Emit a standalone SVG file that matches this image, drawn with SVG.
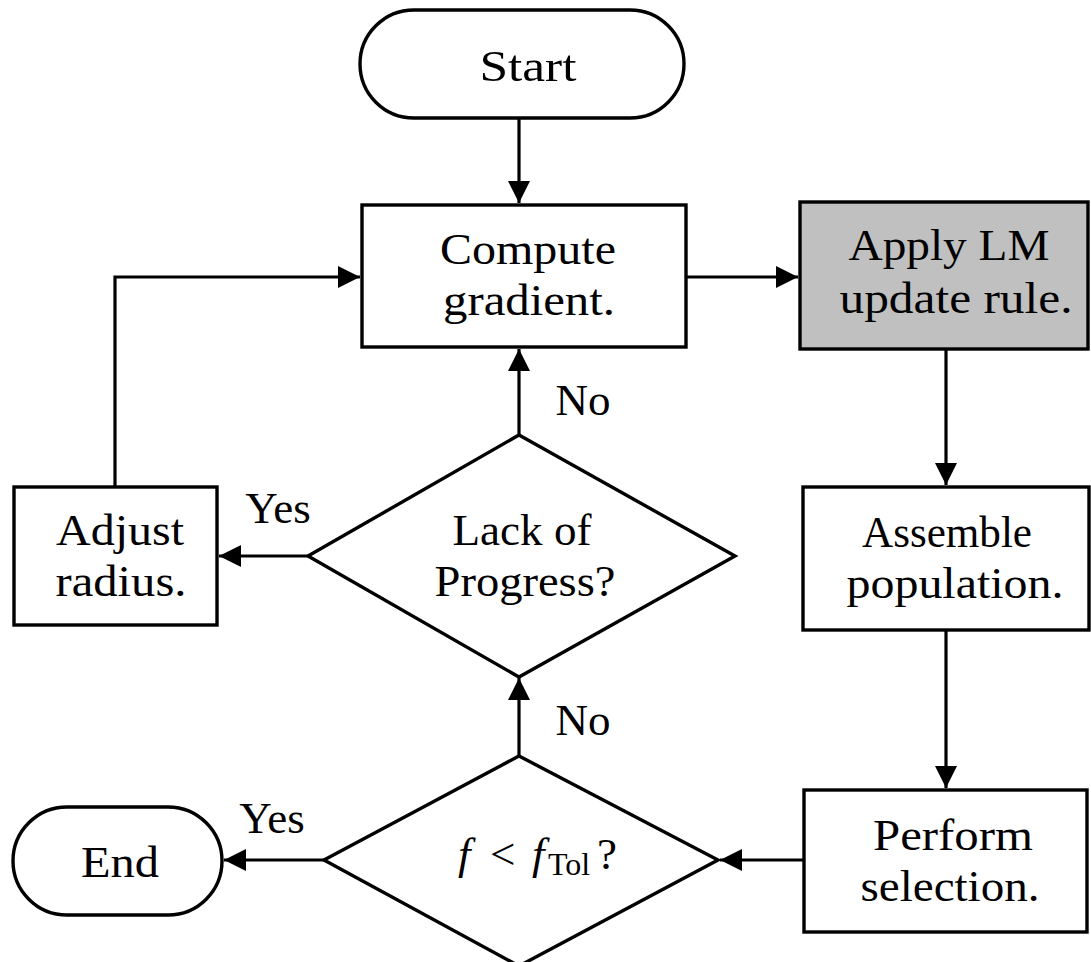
<svg xmlns="http://www.w3.org/2000/svg" width="1091" height="962" viewBox="0 0 1091 962">
<style>
.n{fill:#fff;stroke:#000;stroke-width:3.4}
.g{fill:#c0c0c0;stroke:#000;stroke-width:3.4}
.t{font-family:"Liberation Serif","DejaVu Serif",serif;font-size:45px;fill:#000;text-anchor:middle}
.c{fill:none;stroke:#000;stroke-width:3.2}
</style>
<defs>
<marker id="ah" markerUnits="userSpaceOnUse" markerWidth="24" markerHeight="24" refX="22" refY="11" orient="auto">
<path d="M0,0 L22,11 L0,22 z" fill="#000"/>
</marker>
</defs>
<rect width="1091" height="962" fill="#fff"/>
<g id="connectors">
<path class="c" d="M519,118 V203" marker-end="url(#ah)"/>
<path class="c" d="M686,277 H798" marker-end="url(#ah)"/>
<path class="c" d="M946,349 V485" marker-end="url(#ah)"/>
<path class="c" d="M946,630 V788" marker-end="url(#ah)"/>
<path class="c" d="M804,860 H720" marker-end="url(#ah)"/>
<path class="c" d="M324,860 H224" marker-end="url(#ah)"/>
<path class="c" d="M519,756 V678" marker-end="url(#ah)"/>
<path class="c" d="M519,435 V349" marker-end="url(#ah)"/>
<path class="c" d="M308,556 H219" marker-end="url(#ah)"/>
<path class="c" d="M115,487 V277 H360" marker-end="url(#ah)"/>
<text class="t" x="583" y="415">No</text>
<text class="t" x="583" y="735">No</text>
<text class="t" x="278" y="523">Yes</text>
<text class="t" x="272" y="833">Yes</text>
</g>
<g id="start">
<rect class="n" x="360" y="10" width="324" height="108" rx="54" ry="54"/>
<text class="t" x="528" y="81" textLength="97" lengthAdjust="spacingAndGlyphs">Start</text>
</g>
<g id="compute">
<rect class="n" x="362" y="205" width="324" height="142"/>
<text class="t" x="528" y="264" textLength="176" lengthAdjust="spacingAndGlyphs">Compute</text>
<text class="t" x="529" y="315" textLength="172" lengthAdjust="spacingAndGlyphs">gradient.</text>
</g>
<g id="apply">
<rect class="g" x="800" y="202" width="288" height="147"/>
<text class="t" x="949" y="260" textLength="201" lengthAdjust="spacingAndGlyphs">Apply LM</text>
<text class="t" x="956" y="313" textLength="233" lengthAdjust="spacingAndGlyphs">update rule.</text>
</g>
<g id="assemble">
<rect class="n" x="803" y="487" width="286" height="143"/>
<text class="t" x="947" y="547" textLength="170" lengthAdjust="spacingAndGlyphs">Assemble</text>
<text class="t" x="955" y="598" textLength="217" lengthAdjust="spacingAndGlyphs">population.</text>
</g>
<g id="perform">
<rect class="n" x="804" y="790" width="283" height="142"/>
<text class="t" x="953" y="850" textLength="160" lengthAdjust="spacingAndGlyphs">Perform</text>
<text class="t" x="950" y="901" textLength="179" lengthAdjust="spacingAndGlyphs">selection.</text>
</g>
<g id="adjust">
<rect class="n" x="14" y="487" width="203" height="138"/>
<text class="t" x="120" y="545" textLength="128" lengthAdjust="spacingAndGlyphs">Adjust</text>
<text class="t" x="121" y="596" textLength="131" lengthAdjust="spacingAndGlyphs">radius.</text>
</g>
<g id="lack">
<path class="n" d="M519,435 L735,556 L519,677 L308,556 z"/>
<text class="t" x="522" y="545" textLength="139" lengthAdjust="spacingAndGlyphs">Lack of</text>
<text class="t" x="525" y="596" textLength="181" lengthAdjust="spacingAndGlyphs">Progress?</text>
</g>
<g id="ftol">
<path class="n" d="M519,756 L718,860 L519,966 L324,860 z"/>
<text class="t" y="869" style="text-anchor:start"><tspan x="458" font-style="italic">f</tspan><tspan x="490">&lt;</tspan><tspan x="532" font-style="italic">f</tspan><tspan x="548" font-size="32" dy="6">Tol</tspan><tspan x="597" dy="-6">?</tspan></text>
</g>
<g id="end">
<rect class="n" x="13" y="807" width="209" height="108" rx="54" ry="54"/>
<text class="t" x="120" y="877" textLength="78" lengthAdjust="spacingAndGlyphs">End</text>
</g>
</svg>
